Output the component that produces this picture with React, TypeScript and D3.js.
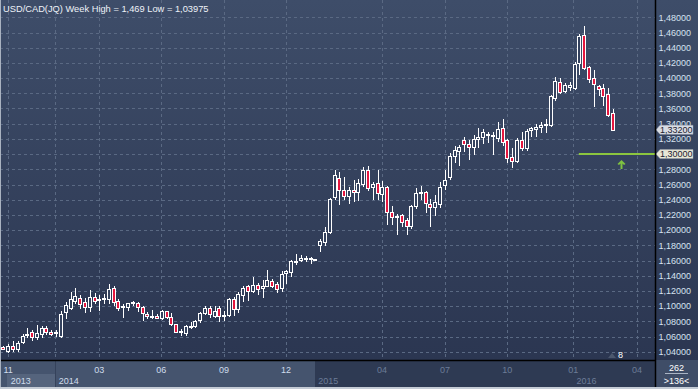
import React, { useEffect } from 'react';
import * as d3 from 'd3';

const W = 698;
const H = 389;

const opens = [1.046,1.0413,1.0476,1.0436,1.0524,1.0618,1.0653,1.059,1.0627,1.0707,1.0662,1.0653,1.0613,1.0924,1.0969,1.1071,1.111,1.1058,1.099,1.1116,1.108,1.109,1.1089,1.1236,1.1067,1.0996,1.0982,1.104,1.1044,1.0991,1.0902,1.087,1.0876,1.0849,1.0929,1.0863,1.0758,1.0653,1.0644,1.0723,1.0732,1.0819,1.0911,1.0977,1.0876,1.0973,1.0868,1.088,1.1087,1.096,1.1144,1.1258,1.1196,1.1275,1.124,1.1271,1.1328,1.1293,1.1232,1.1438,1.1447,1.1574,1.161,1.162,1.1617,1.1617,1.1806,1.1841,1.1977,1.2431,1.2687,1.2528,1.2445,1.2524,1.2506,1.2603,1.2793,1.2568,1.2621,1.2475,1.2564,1.2241,1.2171,1.2198,1.2136,1.2048,1.2313,1.2489,1.2498,1.2348,1.2304,1.2343,1.2595,1.2696,1.297,1.3045,1.3182,1.3138,1.3094,1.3204,1.3226,1.327,1.3257,1.3217,1.334,1.3181,1.2958,1.2914,1.3181,1.3076,1.3313,1.3331,1.3357,1.3379,1.3383,1.3734,1.3945,1.383,1.3888,1.3866,1.4195,1.4568,1.4142,1.4006,1.3896,1.3875,1.3791,1.3546];
const highs = [1.047,1.05,1.054,1.0547,1.0636,1.071,1.068,1.0747,1.0733,1.0733,1.068,1.068,1.0938,1.1058,1.119,1.1236,1.114,1.11,1.121,1.117,1.1147,1.116,1.1293,1.1258,1.109,1.1027,1.1044,1.1067,1.1058,1.1,1.0924,1.0947,1.09,1.0955,1.0933,1.0907,1.0767,1.0701,1.0745,1.0789,1.0819,1.092,1.0995,1.0995,1.0995,1.0995,1.0929,1.1109,1.1118,1.1179,1.1271,1.1284,1.1389,1.1302,1.1337,1.1477,1.1359,1.1315,1.1468,1.1477,1.1609,1.1679,1.1666,1.1653,1.1644,1.162,1.1885,1.2038,1.2418,1.2785,1.2771,1.2705,1.2564,1.2661,1.2674,1.2829,1.2838,1.2639,1.2785,1.2652,1.2577,1.2312,1.2211,1.2215,1.2158,1.2335,1.2555,1.2586,1.2521,1.2414,1.2463,1.263,1.2785,1.3014,1.3102,1.3125,1.3226,1.3182,1.3248,1.3345,1.3328,1.3292,1.3292,1.3418,1.3462,1.3199,1.3085,1.3208,1.3287,1.3326,1.3361,1.3392,1.3418,1.3459,1.3778,1.4019,1.3997,1.3932,1.3954,1.4217,1.4576,1.469,1.4164,1.4107,1.391,1.3918,1.3875,1.3594];
const lows = [1.043,1.03975,1.041,1.0404,1.0511,1.06,1.056,1.0564,1.06,1.0627,1.062,1.061,1.0591,1.0844,1.0956,1.1036,1.097,1.0924,1.0938,1.1044,1.0947,1.1036,1.1036,1.1013,1.0947,1.0858,1.0947,1.102,1.0938,1.0813,1.0849,1.085,1.084,1.083,1.0845,1.0745,1.0653,1.0618,1.0626,1.0714,1.0723,1.0789,1.0898,1.0854,1.0854,1.0802,1.0819,1.0872,1.088,1.0916,1.1065,1.1074,1.1179,1.1161,1.1117,1.1258,1.1249,1.1183,1.1205,1.1302,1.139,1.1556,1.1591,1.16,1.1565,1.1613,1.1723,1.181,1.1959,1.2409,1.2343,1.2409,1.2356,1.2387,1.24,1.2577,1.2533,1.2409,1.2409,1.2387,1.2078,1.2078,1.1946,1.2052,1.1955,1.2026,1.2291,1.2415,1.2238,1.2049,1.2198,1.2299,1.2542,1.2674,1.2895,1.2851,1.304,1.2939,1.3005,1.3094,1.3151,1.316,1.3005,1.3173,1.312,1.2901,1.2835,1.2901,1.3054,1.3054,1.3243,1.3243,1.3287,1.3296,1.337,1.3712,1.38,1.3813,1.3844,1.3857,1.405,1.412,1.3953,1.3638,1.3778,1.3647,1.3506,1.3317];
const closes = [1.044,1.048,1.0436,1.052,1.0609,1.0627,1.059,1.0644,1.0707,1.0653,1.0636,1.0664,1.0902,1.1013,1.1089,1.1133,1.1027,1.099,1.1116,1.1071,1.109,1.11,1.1222,1.1058,1.0978,1.1,1.1036,1.106,1.0982,1.0911,1.0867,1.0876,1.0849,1.0938,1.0854,1.0758,1.0661,1.067,1.0732,1.0736,1.081,1.0911,1.0977,1.0898,1.0942,1.0872,1.088,1.1096,1.0964,1.1153,1.124,1.1196,1.1284,1.1223,1.1262,1.1337,1.1271,1.1223,1.1416,1.146,1.1591,1.16,1.163,1.1635,1.1635,1.1617,1.1863,1.1981,1.2409,1.2727,1.2528,1.2445,1.2528,1.2506,1.2621,1.2785,1.2555,1.2612,1.2489,1.2573,1.2233,1.2171,1.2189,1.2101,1.2048,1.2313,1.2489,1.2507,1.2357,1.2304,1.2366,1.2573,1.2661,1.297,1.305,1.3094,1.3138,1.3094,1.3204,1.3226,1.3292,1.3248,1.3235,1.333,1.3155,1.2945,1.2914,1.3181,1.3085,1.3309,1.334,1.3361,1.3388,1.3401,1.3765,1.3962,1.3822,1.391,1.391,1.4182,1.4554,1.4138,1.3984,1.3918,1.3857,1.3769,1.3515,1.332];

const priceTicks = [1.04,1.06,1.08,1.1,1.12,1.14,1.16,1.18,1.2,1.22,1.24,1.26,1.28,1.3,1.32,1.34,1.36,1.38,1.4,1.42,1.44,1.46,1.48];
const monthTickIdx = [1, 20, 32.9, 46, 58.9, 78.9, 92, 105, 118.75, 132];
const monthTickLabel = ['11', '03', '06', '09', '12', '04', '07', '10', '01', '04'];
const monthTickActive = [true, true, true, true, true, false, false, false, false, false];
const yearStartIdx = [0.8, 10.8, 64.9, 118.7];
const yearLabel = ['2013', '2014', '2015', '2016'];
const extraGridIdx = [10.8];
const lastPrice = 1.332;
const targetPrice = 1.3;
const targetStartIdx = 119.9;
const arrowIdx = 128.7;
const totalBars = 262;
const visibleBars = 136;
const titleText = 'USD/CAD(JQ) Week High = 1,469 Low = 1,03975';

const fmt = (v: number) => d3.format('.5f')(v).replace('.', ',');

export default function App() {
  useEffect(() => {
    document.body.style.margin = '0';
  }, []);

  const plotRight = 655;
  const plotBottom = 360;
  const x = d3.scaleLinear().domain([0, 127]).range([3.3, 612.9]);
  const y = d3.scaleLinear().domain([1.04, 1.48]).range([351.7, 17.3]);

  const font = "'Liberation Sans', Arial, sans-serif";
  const candles = opens.map((o, i) => {
    const c = closes[i];
    const cx = Math.round(x(i));
    const yTop = Math.round(y(Math.max(o, c)));
    const yBot = Math.round(y(Math.min(o, c)));
    const hgt = Math.max(yBot - yTop, 1);
    const up = c >= o;
    return (
      <g key={i}>
        <line x1={cx + 0.5} x2={cx + 0.5} y1={Math.round(y(highs[i]))} y2={Math.round(y(lows[i])) + 1} stroke="#ffffff" strokeWidth={1} />
        <rect x={cx - 1.5} y={yTop + 0.5} width={3} height={hgt} fill={up ? '#34425e' : '#e5173f'} stroke="#ffffff" strokeWidth={1} />
      </g>
    );
  });

  const yLast = y(lastPrice);
  const yTarget = y(targetPrice);
  const ax = Math.round(x(arrowIdx)) + 0.5;
  const badge = (yc: number, label: string, bg: string) => (
    <g>
      <path d={`M${plotRight + 1},${yc} L${plotRight + 5},${yc - 4.5} L${plotRight + 38},${yc - 4.5} L${plotRight + 38},${yc + 4.5} L${plotRight + 5},${yc + 4.5} Z`} fill={bg} stroke="#9aa3b0" strokeWidth={0.5} />
      <text x={plotRight + 5} y={yc + 3.3} fontSize={9} fontFamily={font} fill="#1c2230">{label}</text>
    </g>
  );

  return (
    <svg width={W} height={H} style={{ position: 'absolute', left: 0, top: 0, display: 'block' }}>
      <defs>
        <linearGradient id="bg" x1="0" y1="0" x2="0" y2="1">
          <stop offset="0" stopColor="#3e4d69" />
          <stop offset="1" stopColor="#2b3651" />
        </linearGradient>
      </defs>
      <rect x={0} y={0} width={W} height={plotBottom} fill="url(#bg)" />
      {/* horizontal grid */}
      {priceTicks.map((p, i) => (
        <line key={'h' + i} x1={0} x2={plotRight} y1={Math.round(y(p)) + 0.5} y2={Math.round(y(p)) + 0.5} stroke="#5a6983" strokeDasharray="3,3" strokeWidth={1} />
      ))}
      {/* vertical grid */}
      {[...monthTickIdx, ...extraGridIdx].map((t, i) => (
        <line key={'v' + i} x1={Math.round(x(t)) + 0.5} x2={Math.round(x(t)) + 0.5} y1={0} y2={plotBottom} stroke="#5a6983" strokeDasharray="3,3" strokeWidth={1} />
      ))}
      <text x={3} y={11.5} fontSize={9.3} fontFamily={font} fill="#eef2f8">{titleText}</text>
      {candles}
      {/* target line and arrow */}
      <line x1={x(targetStartIdx)} x2={plotRight} y1={yTarget} y2={yTarget} stroke="#8cc63f" strokeWidth={2} />
      <path d={`M${ax},${yTarget + 6} L${ax + 4},${yTarget + 10} L${ax + 2.5},${yTarget + 11} L${ax + 1},${yTarget + 9.5} L${ax + 1},${yTarget + 15} L${ax - 1},${yTarget + 15} L${ax - 1},${yTarget + 9.5} L${ax - 2.5},${yTarget + 11} L${ax - 4},${yTarget + 10} Z`} fill="#7fc241" />
      {/* small marker */}
      <path d="M608,358 L612,353 L616,358 Z" fill="#4c586e" />
      <text x={618} y={358} fontSize={9} fontFamily={font} fill="#ffffff">8</text>
      {/* right axis labels */}
      {priceTicks.map((p, i) => (
        <text key={'yl' + i} x={658.5} y={y(p) + 3.3} fontSize={9} fontFamily={font} fill="#d6e2f0">{fmt(p)}</text>
      ))}
      {badge(yLast, fmt(lastPrice), '#d9dde4')}
      {badge(yTarget, fmt(targetPrice), '#e9e7d6')}
      {/* time axis */}
      <rect x={0} y={plotBottom} width={315} height={H - plotBottom} fill="#45546e" />
      <rect x={315} y={plotBottom} width={plotRight - 315} height={H - plotBottom} fill="#2e3a53" />
      <rect x={Math.round(x(yearStartIdx[0]))} y={374} width={Math.round(x(yearStartIdx[1])) - Math.round(x(yearStartIdx[0]))} height={13} fill="#55647d" />
      <line x1={Math.round(x(yearStartIdx[1])) + 0.5} x2={Math.round(x(yearStartIdx[1])) + 0.5} y1={plotBottom} y2={387} stroke="#35425b" />
      <rect x={plotRight} y={plotBottom} width={W - plotRight} height={H - plotBottom} fill="#3f4d67" />
      {monthTickIdx.map((t, i) => (
        <text key={'mt' + i} x={x(t)} y={372.5} fontSize={9} fontFamily={font} textAnchor="middle" fill={monthTickActive[i] ? '#cfdcec' : '#6c7c97'}>{monthTickLabel[i]}</text>
      ))}
      {yearStartIdx.map((t, i) => (
        <text key={'yr' + i} x={x(t) + 3.5} y={383.5} fontSize={9} fontFamily={font} fill={i < 2 ? '#cfdcec' : '#6c7c97'}>{yearLabel[i]}</text>
      ))}
      <text x={676.5} y={371} fontSize={9} fontFamily={font} textAnchor="middle" fill="#ffffff">{totalBars}</text>
      <line x1={665} x2={688} y1={373.5} y2={373.5} stroke="#aab4c4" strokeWidth={1} />
      <text x={676.5} y={384} fontSize={9} fontFamily={font} textAnchor="middle" fill="#ffffff">{`>${visibleBars}<`}</text>
      {/* borders */}
      <line x1={0} x2={plotRight} y1={plotBottom + 0.5} y2={plotBottom + 0.5} stroke="#000000" strokeWidth={1.5} />
      <line x1={plotRight + 0.5} x2={plotRight + 0.5} y1={0} y2={H} stroke="#000000" strokeWidth={1.5} />
      <rect x={0} y={0} width={1} height={H} fill="#a9b2c0" />
      <rect x={0} y={387} width={W} height={2} fill="#c4cbd5" />
    </svg>
  );
}
